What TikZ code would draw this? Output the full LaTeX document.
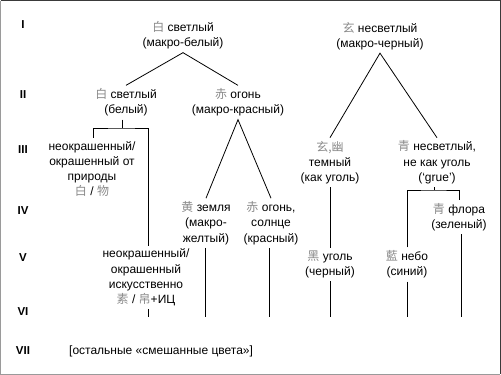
\documentclass[tikz,border=0pt]{standalone}
\usepackage{fontspec}
\setmainfont{Liberation Sans}
\newfontfamily\cjk{Noto Sans CJK SC}
\definecolor{cjkgray}{HTML}{8A8A8A}
\definecolor{framedark}{HTML}{3A3A3A}
\definecolor{framelight}{HTML}{9A9A9A}
\newcommand{\cj}[1]{{\cjk\color{cjkgray}#1}}
\begin{document}
\begin{tikzpicture}[x=1pt,y=-1pt,
  lbl/.style={align=center,inner xsep=1pt,inner ysep=3pt,font=\fontsize{12}{15.3}\selectfont},
  lvl/.style={font=\fontsize{11.5}{14}\selectfont\bfseries},
  ln/.style={line width=0.8pt}]
\useasboundingbox (0,0) rectangle (501,375);
\draw[framelight,line width=1.2pt] (0.6,0.6) -- (0.6,374.4) -- (500.4,374.4);
\draw[framedark,line width=1.2pt] (0.6,0.6) -- (500.4,0.6) -- (500.4,374.4);
% level labels
\node[lvl] (r1) at (23,25) {I};
\node[lvl] (r2) at (23,95) {II};
\node[lvl] (r3) at (23,150) {III};
\node[lvl] (r4) at (23,211) {IV};
\node[lvl] (r5) at (23,258) {V};
\node[lvl] (r6) at (23,312) {VI};
\node[lvl] (r7) at (23,351) {VII};
% nodes
\node[lbl] (a) at (183,35.5) {\cj{白} светлый\\(макро-белый)};
\node[lbl] (b) at (126,102.5) {\cj{白} светлый\\(белый)};
\node[lbl] (c) at (238,102.5) {\cj{赤} огонь\\(макро-красный)};
\node[lbl] (d) at (380,36) {\cj{玄} несветлый\\(макро-черный)};
\node[lbl] (e) at (330,162.5) {\cj{玄,幽}\\темный\\(как уголь)};
\node[lbl] (f) at (437,162.5) {\cj{青} несветлый,\\не как уголь\\(‘grue’)};
\node[lbl] (g) at (92,169) {неокрашенный/\\окрашенный от\\природы\\\cj{白} / \cj{物}};
\node[lbl] (h) at (206,223) {\cj{黄} земля\\(макро-\\желтый)};
\node[lbl] (i) at (271,223) {\cj{赤} огонь,\\солнце\\(красный)};
\node[lbl] (j) at (146,277.5) {неокрашенный/\\окрашенный\\искусственно\\\cj{素} / \cj{帛}+ИЦ};
\node[lbl] (k) at (330,264.5) {\cj{黑} уголь\\(черный)};
\node[lbl] (l) at (407,264.5) {\cj{藍} небо\\(синий)};
\node[lbl] (m) at (459,217) {\cj{青} флора\\(зеленый)};
\node[lbl,anchor=west] (rest) at (68,351) {[остальные «смешанные цвета»]};
% bottom ends
\coordinate (hb) at (205,317);
\coordinate (ib) at (269,317);
\coordinate (jb) at (148,317);
\coordinate (kb) at (330,317);
\coordinate (lb) at (407,317);
\coordinate (mb) at (461,317);
% connectors
\draw[ln] (b.north) -- (a.south) -- (c.north);
\draw[ln] (e.north) -- (d.south) -- (f.north);
\draw[ln] (h.north) -- (c.south) -- (i.north);
\draw[ln] (b.south -| 122,0) -- (122,128) coordinate (bw);
\draw[ln] (g.north -| 93,0) |- (bw) -| (148,0 |- j.north);
\draw[ln] (e.south) -- (k.north);
\draw[ln] (f.south -| 434,0) -- (434,190) coordinate (fb);
\draw[ln] (l.north) |- (fb) -| (m.north);
\draw[ln] (h.south -| hb) -- (hb);
\draw[ln] (i.south -| ib) -- (ib);
\draw[ln] (j.south -| jb) -- (jb);
\draw[ln] (k.south) -- (kb);
\draw[ln] (l.south) -- (lb);
\draw[ln] (m.south -| mb) -- (mb);
\end{tikzpicture}
\end{document}
